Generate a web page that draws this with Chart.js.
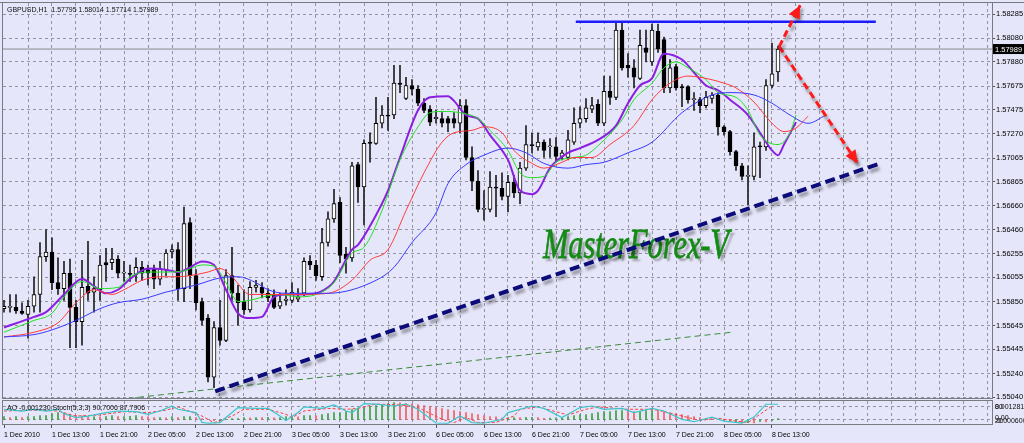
<!DOCTYPE html>
<html>
<head>
<title>GBPUSD,H1</title>
<script src="https://cdn.jsdelivr.net/npm/chart.js"></script>
<style>
  body { margin: 0; background: #e6e6fa; }
  #wrap { position: relative; width: 1024px; height: 443px; overflow: hidden; background: #e6e6fa; }
  canvas { position: absolute; left: 0; }
</style>
</head>
<body>
<div id="wrap">
  <canvas id="mainChart" width="1024" height="400" style="top:0"></canvas>
  <canvas id="panelChart" width="1024" height="43" style="top:400px"></canvas>
</div>
<script>
// ---- data (H1 bars from 1 Dec 05:00, bar index 0..129) ----
const symbolTitle = 'GBPUSD,H1  1.57795 1.58014 1.57714 1.57989';
const panelTitle = 'AO -0,001230 Stoch(5,3,3) 90,7006 87,7906';
const watermark = 'MasterForex-V';
const lastPrice = 1.57989;

const timeLabels = ['1 Dec 2010', '1 Dec 13:00', '1 Dec 21:00', '2 Dec 05:00', '2 Dec 13:00', '2 Dec 21:00',
  '3 Dec 05:00', '3 Dec 13:00', '3 Dec 21:00', '6 Dec 05:00', '6 Dec 13:00', '6 Dec 21:00',
  '7 Dec 05:00', '7 Dec 13:00', '7 Dec 21:00', '8 Dec 05:00', '8 Dec 13:00'];

const priceTicks = [1.58285, 1.58080, 1.57880, 1.57675, 1.57475, 1.57270, 1.57065, 1.56865, 1.56660,
  1.56460, 1.56255, 1.56055, 1.55850, 1.55645, 1.55445, 1.55240, 1.55040];

const candleOpen = [
  1.5579, 1.5580, 1.5580, 1.5577, 1.5574, 1.5581, 1.5591, 1.5623, 1.5627, 1.5601,
  1.5596, 1.5609, 1.5580, 1.5568, 1.5598, 1.5593, 1.5595, 1.5618, 1.5618, 1.5621,
  1.5609, 1.5609, 1.5608, 1.5614, 1.5612, 1.5613, 1.5604, 1.5612, 1.5627, 1.5629,
  1.5596, 1.5652, 1.5607, 1.5585, 1.5571, 1.5521, 1.5563, 1.5552, 1.5607, 1.5592,
  1.5585, 1.5578, 1.5597, 1.5597, 1.5592, 1.5591, 1.5581, 1.5586, 1.5586, 1.5587,
  1.5592, 1.5619, 1.5616, 1.5606, 1.5635, 1.5655, 1.5669, 1.5625, 1.5622, 1.5701,
  1.5682, 1.5720, 1.5719, 1.5736, 1.5743, 1.5743, 1.5770, 1.5757, 1.5768, 1.5765,
  1.5753, 1.5748, 1.5740, 1.5740, 1.5740, 1.5740, 1.5736, 1.5751, 1.5707, 1.5687,
  1.5663, 1.5663, 1.5682, 1.5681, 1.5674, 1.5686, 1.5677, 1.5698, 1.5718, 1.5716,
  1.5720, 1.5716, 1.5716, 1.5708, 1.5707, 1.5720, 1.5736, 1.5740, 1.5748, 1.5752,
  1.5736, 1.5763, 1.5758, 1.5815, 1.5785, 1.5783, 1.5774, 1.5800, 1.5788, 1.5814,
  1.5807, 1.5766, 1.5784, 1.5767, 1.5767, 1.5756, 1.5756, 1.5751, 1.5757, 1.5760,
  1.5733, 1.5729, 1.5712, 1.5700, 1.5691, 1.5691, 1.5717, 1.5716, 1.5768, 1.57795];
const candleHigh = [
  1.5586, 1.5591, 1.5591, 1.5584, 1.5586, 1.5606, 1.5635, 1.5646, 1.5639, 1.5622,
  1.5619, 1.5621, 1.5586, 1.5620, 1.5636, 1.5606, 1.5624, 1.5630, 1.5630, 1.5624,
  1.5619, 1.5616, 1.5622, 1.5619, 1.5616, 1.5616, 1.5619, 1.5629, 1.5633, 1.5635,
  1.5665, 1.5656, 1.5612, 1.5588, 1.5574, 1.5568, 1.5586, 1.5612, 1.5631, 1.5599,
  1.5595, 1.5602, 1.5603, 1.5601, 1.5596, 1.5595, 1.5592, 1.5595, 1.5601, 1.5596,
  1.5622, 1.5624, 1.5620, 1.5647, 1.5661, 1.5680, 1.5673, 1.5631, 1.5703, 1.5703,
  1.5722, 1.5728, 1.5758, 1.5751, 1.5758, 1.5785, 1.5785, 1.5775, 1.5773, 1.5768,
  1.5757, 1.5751, 1.5747, 1.5745, 1.5742, 1.5745, 1.5756, 1.5756, 1.5716, 1.5696,
  1.5679, 1.5695, 1.5692, 1.5694, 1.5692, 1.5692, 1.5703, 1.5734, 1.5728, 1.5728,
  1.5722, 1.5723, 1.5724, 1.5713, 1.5730, 1.5749, 1.5750, 1.5757, 1.5758, 1.5756,
  1.5776, 1.5776, 1.5821, 1.5821, 1.5795, 1.5790, 1.5815, 1.5815, 1.5820, 1.5820,
  1.5809, 1.5790, 1.5786, 1.5769, 1.5768, 1.5762, 1.5758, 1.5763, 1.5762, 1.5762,
  1.5734, 1.5730, 1.5713, 1.5702, 1.5700, 1.5728, 1.5720, 1.5773, 1.5804, 1.58014];
const candleLow = [
  1.5576, 1.5576, 1.5575, 1.5574, 1.5554, 1.5576, 1.5576, 1.5619, 1.5595, 1.5591,
  1.5586, 1.5546, 1.5546, 1.5548, 1.5586, 1.5576, 1.5586, 1.5602, 1.5612, 1.5605,
  1.5602, 1.5602, 1.5602, 1.5603, 1.5599, 1.5596, 1.5599, 1.5607, 1.5622, 1.5586,
  1.5585, 1.5596, 1.5578, 1.5565, 1.5517, 1.5512, 1.5548, 1.5551, 1.5586, 1.5565,
  1.5574, 1.5576, 1.5593, 1.5588, 1.5585, 1.5579, 1.5579, 1.5582, 1.5584, 1.5585,
  1.5590, 1.5612, 1.5603, 1.5603, 1.5632, 1.5652, 1.5618, 1.5609, 1.5619, 1.5669,
  1.5650, 1.5703, 1.5718, 1.5732, 1.5730, 1.5740, 1.5762, 1.5756, 1.5760, 1.5751,
  1.5745, 1.5734, 1.5736, 1.5733, 1.5729, 1.5732, 1.5728, 1.5705, 1.5679, 1.5661,
  1.5654, 1.5661, 1.5657, 1.5671, 1.5661, 1.5673, 1.5668, 1.5696, 1.5711, 1.5713,
  1.5707, 1.5707, 1.5703, 1.5705, 1.5705, 1.5718, 1.5732, 1.5737, 1.5745, 1.5734,
  1.5734, 1.5752, 1.5756, 1.5781, 1.5775, 1.5766, 1.5773, 1.5788, 1.5785, 1.5796,
  1.5762, 1.5762, 1.5764, 1.5750, 1.5753, 1.5747, 1.5745, 1.5749, 1.5753, 1.5726,
  1.5726, 1.5709, 1.5696, 1.5688, 1.5667, 1.5688, 1.5690, 1.5713, 1.5766, 1.57714];
const candleClose = [
  1.5581, 1.5581, 1.5577, 1.5575, 1.5581, 1.5591, 1.5623, 1.5627, 1.5601, 1.5596,
  1.5609, 1.5580, 1.5568, 1.5597, 1.5592, 1.5596, 1.5616, 1.5616, 1.5621, 1.5609,
  1.5610, 1.5608, 1.5614, 1.5609, 1.5609, 1.5604, 1.5613, 1.5626, 1.5629, 1.5596,
  1.5651, 1.5607, 1.5584, 1.5569, 1.5521, 1.5563, 1.5552, 1.5607, 1.5592, 1.5584,
  1.5578, 1.5597, 1.5599, 1.5592, 1.5588, 1.5580, 1.5585, 1.5587, 1.5593, 1.5589,
  1.5619, 1.5616, 1.5607, 1.5635, 1.5655, 1.5668, 1.5624, 1.5621, 1.5700, 1.5682,
  1.5719, 1.5719, 1.5736, 1.5743, 1.5742, 1.5770, 1.5769, 1.5768, 1.5765, 1.5753,
  1.5747, 1.5737, 1.5741, 1.5736, 1.5736, 1.5736, 1.5751, 1.5707, 1.5687, 1.5663,
  1.5664, 1.5682, 1.5681, 1.5674, 1.5686, 1.5677, 1.5698, 1.5718, 1.5717, 1.5720,
  1.5713, 1.5717, 1.5708, 1.5711, 1.5722, 1.5736, 1.5740, 1.5749, 1.5751, 1.5736,
  1.5763, 1.5758, 1.5815, 1.5783, 1.5783, 1.5775, 1.5802, 1.5796, 1.5815, 1.5799,
  1.5766, 1.5783, 1.5766, 1.5766, 1.5756, 1.5757, 1.5751, 1.5758, 1.5760, 1.5733,
  1.5729, 1.5712, 1.5700, 1.5691, 1.5692, 1.5716, 1.5716, 1.5768, 1.5778, 1.57989];

// moving averages, [bar, price]
const maPurple = [[0,1.5563],[5,1.5572],[7,1.5576],[10,1.5591],[13,1.5604],[15,1.5598],[17,1.5592],[19,1.5595],
  [21,1.5604],[24,1.5613],[27,1.5612],[29,1.5610],[31,1.5614],[33,1.5619],[35,1.5616],[37,1.5595],[39,1.5575],
  [41,1.5571],[43,1.5572],[45,1.5589],[47,1.5591],[49,1.5591],[52,1.5592],[54,1.5597],[55,1.5602],[58,1.5629],
  [59,1.5633],[61,1.5649],[64,1.5679],[66,1.5707],[69,1.5747],[71,1.5758],[74,1.5759],[75,1.5755],[77,1.5743],
  [79,1.5740],[81,1.5726],[84,1.5705],[86,1.5679],[88,1.5676],[89,1.5679],[91,1.5698],[94,1.5711],[96,1.5715],
  [99,1.5722],[102,1.5734],[104,1.5753],[106,1.5768],[108,1.5774],[110,1.5795],[113,1.5790],[115,1.5779],
  [117,1.5768],[119,1.5764],[121,1.5756],[124,1.5743],[126,1.5728],[128,1.5713],[129,1.5709],[130,1.5718],[132,1.5737]];
const maGreen = [[0,1.5559],[5,1.5569],[8,1.5575],[10,1.5589],[13,1.5602],[16,1.5596],[19,1.5597],[21,1.5606],
  [24,1.5610],[27,1.5610],[30,1.5611],[33,1.5616],[35,1.5615],[37,1.5601],[39,1.5585],[41,1.5586],[44,1.5590],
  [46,1.5591],[49,1.5589],[52,1.5591],[55,1.5601],[58,1.5626],[60,1.5631],[63,1.5662],[66,1.5705],[69,1.5733],
  [71,1.5745],[73,1.5746],[76,1.5745],[79,1.5740],[81,1.5730],[84,1.5713],[86,1.5694],[88,1.5690],[90,1.5691],
  [92,1.5703],[95,1.5707],[97,1.5709],[99,1.5717],[103,1.5739],[105,1.5756],[108,1.5770],[110,1.5783],[112,1.5788],
  [114,1.5783],[117,1.5773],[119,1.5762],[122,1.5758],[124,1.5747],[126,1.5726],[129,1.5718],[131,1.5728],[132,1.5743]];
const maRed = [[0,1.5555],[5,1.5559],[9,1.5567],[12,1.5584],[15,1.5595],[18,1.5591],[20,1.5595],[23,1.5603],
  [26,1.5606],[29,1.5606],[31,1.5607],[34,1.5610],[36,1.5613],[38,1.5606],[41,1.5591],[44,1.5591],[49,1.5591],
  [54,1.5592],[58,1.5603],[61,1.5620],[64,1.5629],[67,1.5662],[70,1.5694],[73,1.5720],[75,1.5728],[78,1.5730],
  [80,1.5733],[83,1.5728],[85,1.5713],[88,1.5702],[90,1.5698],[93,1.5703],[95,1.5707],[98,1.5707],[101,1.5718],
  [105,1.5734],[108,1.5756],[111,1.5770],[114,1.5776],[116,1.5775],[120,1.5770],[122,1.5766],[125,1.5754],
  [128,1.5736],[130,1.5729],[132,1.5732],[134,1.5742]];
const maBlue = [[0,1.5555],[5,1.5557],[8,1.5561],[12,1.5569],[16,1.5579],[19,1.5584],[23,1.5587],[27,1.5593],
  [32,1.5599],[36,1.5605],[39,1.5606],[42,1.5601],[44,1.5595],[47,1.5592],[54,1.5592],[62,1.5603],[65,1.5614],
  [68,1.5635],[72,1.5660],[74,1.5685],[77,1.5701],[80,1.5709],[84,1.5715],[87,1.5711],[90,1.5702],[94,1.5698],
  [97,1.5701],[100,1.5703],[104,1.5711],[108,1.5720],[113,1.5745],[118,1.5760],[121,1.5762],[125,1.5760],
  [128,1.5753],[131,1.5743],[134,1.5736],[137,1.5743]];

// hand drawn objects, [bar, price]
const resistanceLine = [[95.3, 1.5822], [145.3, 1.5822]];
const supportLine = [[35.2, 1.5509], [146, 1.5702]];
const channelLine = [[19, 1.5502], [121.3, 1.5559]];
const arrowUp = [[129.2, 1.5801], [132.7, 1.5836]];
const arrowDown = [[129.2, 1.5801], [142.3, 1.5702]];

// indicator window
const aoValues = [
  0.00021, 0.00014, 0.00021, 0.00014, 0.00021, 0.00022, 0.00028, 0.00029, 0.00042, 0.00049,
  0.00042, 0.00035, 0.00028, 0.00027, 0.00021, 0.00022, 0.00020, 0.00021, 0.00028, 0.00021,
  0.00022, 0.00023, 0.00028, 0.00021, 0.00020, 0.00014, 0.00015, 0.00013, 0.00021, 0.00014,
  0.00021, 0.00022, 0.00014, 0.00007, 0.00001, -0.00007, -0.00006, 0.00001, 0.00007, 0.00008,
  0.00014, 0.00013, 0.00015, 0.00014, 0.00016, 0.00013, 0.00015, 0.00021, 0.00022, 0.00020,
  0.00028, 0.00029, 0.00027, 0.00035, 0.00042, 0.00049, 0.00050, 0.00056, 0.00070, 0.00077,
  0.00084, 0.00091, 0.00098, 0.00105, 0.00112, 0.00119, 0.00118, 0.00112, 0.00110, 0.00105,
  0.00098, 0.00091, 0.00084, 0.00077, 0.00070, 0.00063, 0.00056, 0.00049, 0.00042, 0.00035,
  0.00028, 0.00021, 0.00020, 0.00012, 0.00013, 0.00015, 0.00014, 0.00016, 0.00017, 0.00015,
  0.00010, 0.00012, 0.00013, 0.00014, 0.00021, 0.00028, 0.00035, 0.00036, 0.00042, 0.00049,
  0.00056, 0.00057, 0.00063, 0.00064, 0.00062, 0.00056, 0.00057, 0.00063, 0.00064, 0.00062,
  0.00056, 0.00049, 0.00042, 0.00035, 0.00028, 0.00021, 0.00014, 0.00007, 0.00006, 0.00001,
  -0.00007, -0.00014, -0.00013, -0.00021, -0.00020, -0.00022, -0.00014, -0.00015, -0.00007, 0.00007];
const stochMain = [[0,66],[3,58],[5,66],[7,58],[9,66],[10,46],[12,28],[14,35],[17,51],[19,58],[22,55],[24,43],
  [26,58],[28,81],[29,66],[32,51],[33,6],[34,2],[36,5],[38,51],[39,74],[42,70],[44,70],[46,35],[47,15],[49,51],
  [50,77],[53,70],[55,86],[57,58],[58,51],[60,92],[62,90],[65,81],[67,90],[69,66],[72,3],[74,2],[76,35],[78,5],
  [80,2],[83,20],[84,51],[88,81],[90,70],[93,28],[96,74],[98,81],[100,66],[103,70],[105,51],[108,70],[110,58],
  [113,20],[115,9],[118,30],[120,12],[123,3],[125,30],[127,89],[129,89]];
const stochSignal = [[0,58],[5,62],[9,58],[12,35],[16,40],[20,55],[24,51],[27,62],[29,77],[33,35],[35,4],[38,35],
  [40,66],[44,66],[47,43],[48,28],[50,58],[54,70],[57,66],[59,70],[62,90],[66,86],[69,74],[73,20],[75,5],[77,28],
  [79,5],[82,6],[85,35],[86,66],[89,77],[94,40],[97,66],[99,77],[104,66],[107,66],[109,62],[113,35],[116,15],
  [119,25],[122,12],[124,5],[126,43],[128,81]];
const stochLevels = [20, 80];

// ---- layout ----
const X_MIN = -1 / 6, X_MAX = X_MIN + 989 / 6;   // 6 px per bar
const Y_MIN = 1.55033, Y_MAX = 1.58379;
const GRID = '#9494a0', FRAME = '#7a7a80';
const FONT = 'Liberation Sans';

const bars = candleOpen.map((_, i) => i);
const pts = arr => arr.map(([x, y]) => ({ x, y }));
const gridBars = [];
for (let b = 0; b <= 164; b += 4) gridBars.push(b);

function fixWidth(w) {
  return axis => { axis.width = w; axis.paddingTop = 0; axis.paddingBottom = 0; };
}
function fixHeight(h) {
  return axis => { axis.height = h; axis.paddingLeft = 0; axis.paddingRight = 0; };
}
function maLine(data, color, width) {
  return { type: 'line', data: pts(data), borderColor: color, borderWidth: width, pointRadius: 0,
           cubicInterpolationMode: 'monotone', order: 3 };
}
function drawnLine(data, color, width, dash, extra) {
  return Object.assign({ type: 'line', data: pts(data), borderColor: color, borderWidth: width,
           borderDash: dash, pointRadius: 0, tension: 0, order: 1 }, extra || {});
}

const mainDecor = {
  id: 'mainDecor',
  beforeDatasetsDraw(chart) {
    const ctx = chart.ctx;
    ctx.save();
    ctx.font = 'italic 42px "Liberation Serif"';
    const w = ctx.measureText(watermark).width;
    ctx.translate(543, 258);
    ctx.scale(186 / w, 1);
    ctx.shadowColor = 'rgba(40,40,40,0.4)';
    ctx.shadowOffsetX = 3; ctx.shadowOffsetY = 3; ctx.shadowBlur = 2;
    ctx.fillStyle = '#168a16';
    ctx.strokeStyle = '#168a16';
    ctx.lineWidth = 0.8;
    ctx.textBaseline = 'alphabetic';
    ctx.fillText(watermark, 0, 0);
    ctx.shadowColor = 'rgba(0,0,0,0)';
    ctx.strokeText(watermark, 0, 0);
    ctx.restore();
  },
  beforeDatasetDraw(chart, args) {
    const ds = chart.data.datasets[args.index];
    if (ds.shadow) {
      const ctx = chart.ctx;
      ctx.save();
      ctx.shadowColor = 'rgba(0,0,0,0.35)';
      ctx.shadowOffsetX = 2; ctx.shadowOffsetY = 4; ctx.shadowBlur = 3;
    }
  },
  afterDatasetDraw(chart, args) {
    if (chart.data.datasets[args.index].shadow) chart.ctx.restore();
  },
  afterDatasetsDraw(chart) {
    const ctx = chart.ctx;
    chart.data.datasets.forEach((ds, i) => {
      if (!ds.arrow) return;
      const [a, b] = chart.getDatasetMeta(i).data;
      const ang = Math.atan2(b.y - a.y, b.x - a.x);
      const L = 13, W = 6;
      const bx = b.x - L * Math.cos(ang), by = b.y - L * Math.sin(ang);
      ctx.save();
      ctx.shadowColor = 'rgba(0,0,0,0.3)';
      ctx.shadowOffsetX = 2; ctx.shadowOffsetY = 3; ctx.shadowBlur = 3;
      ctx.fillStyle = ds.borderColor;
      ctx.beginPath();
      ctx.moveTo(b.x, b.y);
      ctx.lineTo(bx - W * Math.sin(ang), by + W * Math.cos(ang));
      ctx.lineTo(bx + W * Math.sin(ang), by - W * Math.cos(ang));
      ctx.closePath();
      ctx.fill();
      ctx.restore();
    });
  },
  afterDraw(chart) {
    const ctx = chart.ctx;
    const { left, top, right, bottom } = chart.chartArea;
    ctx.save();
    ctx.strokeStyle = FRAME;
    ctx.lineWidth = 1;
    ctx.beginPath();
    ctx.moveTo(0, top - 0.5); ctx.lineTo(1024, top - 0.5);
    ctx.stroke();
    ctx.strokeRect(left - 0.5, top - 0.5, right - left + 1, bottom - top + 1);
    ctx.fillStyle = '#111';
    ctx.font = '7px "' + FONT + '"';
    ctx.textBaseline = 'middle';
    ctx.fillText(symbolTitle, 7, 10);
    const py = chart.scales.y.getPixelForValue(lastPrice);
    ctx.fillStyle = '#000';
    ctx.fillRect(right + 1, py - 5, 1024 - right, 10);
    ctx.fillStyle = '#fff';
    ctx.font = '7.5px "' + FONT + '"';
    ctx.fillText(lastPrice.toFixed(5), right + 3, py + 0.5);
    ctx.restore();
  }
};

new Chart(document.getElementById('mainChart'), {
  type: 'bar',
  data: {
    datasets: [
      drawnLine(arrowUp, '#ff1a1a', 3, [7, 4], { shadow: true, arrow: true, order: 0 }),
      drawnLine(arrowDown, '#ff1a1a', 3, [7, 4], { shadow: true, arrow: true, order: 0 }),
      drawnLine(supportLine, '#0b0b7a', 4, [10, 5], { shadow: true }),
      drawnLine(resistanceLine, '#1c1cff', 2.5, []),
      drawnLine(channelLine, '#3a8a3a', 1, [6, 4], { order: 2 }),
      maLine(maBlue, '#3a3aff', 1),
      maLine(maRed, '#ff3c3c', 1),
      maLine(maGreen, '#22e022', 1),
      maLine(maPurple, '#8a1fe0', 2),
      {
        type: 'bar', data: bars.map(i => ({ x: i, y: [candleOpen[i], candleClose[i]] })),
        backgroundColor: bars.map(i => candleClose[i] > candleOpen[i] ? '#ffffff' : '#000000'),
        borderColor: '#000', borderWidth: 1, borderSkipped: false, barThickness: 4, grouped: false, order: 5
      },
      {
        type: 'bar', data: bars.map(i => ({ x: i, y: [candleLow[i], candleHigh[i]] })),
        backgroundColor: '#202020', barThickness: 1, grouped: false, order: 6
      },
      drawnLine([[X_MIN, lastPrice], [X_MAX, lastPrice]], '#8a8a90', 1, [], { order: 7 })
    ]
  },
  options: {
    responsive: false,
    animation: false,
    events: [],
    layout: { padding: { left: 3, top: 3, right: 0, bottom: 2 } },
    plugins: { legend: { display: false }, tooltip: { enabled: false } },
    scales: {
      x: {
        type: 'linear', min: X_MIN, max: X_MAX, offset: false,
        afterBuildTicks: axis => { axis.ticks = gridBars.filter(b => b > 0).map(v => ({ value: v })); },
        ticks: { display: false },
        grid: { color: GRID, drawTicks: false, offset: false, borderDash: [3, 3] },
        border: { display: false, dash: [3, 3] },
        afterFit: fixHeight(0)
      },
      y: {
        position: 'right', min: Y_MIN, max: Y_MAX,
        afterBuildTicks: axis => { axis.ticks = priceTicks.map(v => ({ value: v })); },
        ticks: { color: '#000', font: { family: FONT, size: 7.5 }, padding: 1, callback: v => v.toFixed(5) },
        grid: { color: GRID, tickLength: 3, tickColor: '#555', tickBorderDash: [], borderDash: [3, 3] },
        border: { display: false, dash: [3, 3] },
        afterFit: fixWidth(32)
      }
    }
  },
  plugins: [mainDecor]
});

const panelDecor = {
  id: 'panelDecor',
  afterDraw(chart) {
    const ctx = chart.ctx;
    const { left, top, right, bottom } = chart.chartArea;
    ctx.save();
    ctx.strokeStyle = FRAME;
    ctx.lineWidth = 1;
    ctx.strokeRect(left - 0.5, top - 0.5, right - left + 1, bottom - top + 1);
    ctx.fillStyle = '#111';
    ctx.font = '7px "' + FONT + '"';
    ctx.textBaseline = 'middle';
    ctx.fillText(panelTitle, 7, 8);
    const x = right + 3;
    ctx.fillText('0.0012817', x, 7);
    ctx.fillText('80', x, 7);
    ctx.fillText('0.00', x, 18);
    ctx.fillText('-0.000600', x, 21);
    ctx.fillText('20', x, 21);
    ctx.restore();
  }
};

new Chart(document.getElementById('panelChart'), {
  type: 'bar',
  data: {
    datasets: [
      { type: 'line', yAxisID: 'st', data: pts(stochMain), borderColor: '#3cc4cc', borderWidth: 1.2,
        pointRadius: 0, tension: 0, order: 1 },
      { type: 'line', yAxisID: 'st', data: pts(stochSignal), borderColor: '#ff3c3c', borderWidth: 1,
        borderDash: [3, 2], pointRadius: 0, tension: 0, order: 2 },
      { type: 'bar', yAxisID: 'ao', data: bars.map(i => ({ x: i, y: aoValues[i] })),
        backgroundColor: bars.map(i => (i === 0 || aoValues[i] > aoValues[i - 1]) ? '#3ca03c' : '#f06060'),
        barThickness: 1, grouped: false, order: 3 }
    ]
  },
  options: {
    responsive: false,
    animation: false,
    events: [],
    layout: { padding: { left: 3, top: 1, right: 0, bottom: 0 } },
    plugins: { legend: { display: false }, tooltip: { enabled: false } },
    scales: {
      x: {
        type: 'linear', min: X_MIN, max: X_MAX, offset: false, position: 'bottom',
        afterBuildTicks: axis => { axis.ticks = gridBars.map(v => ({ value: v })); },
        ticks: {
          autoSkip: false, maxRotation: 0, align: 'start', padding: 3, color: '#000',
          font: { family: FONT, size: 7 },
          callback: v => (v % 8 === 0 && v / 8 < timeLabels.length) ? timeLabels[v / 8] : ''
        },
        grid: {
          offset: false, tickLength: 4, tickBorderDash: [], borderDash: [3, 3],
          color: c => (c.tick && c.tick.value === 0) ? 'rgba(0,0,0,0)' : GRID,
          tickColor: c => (c.tick && c.tick.value % 8 === 0 && c.tick.value / 8 < timeLabels.length) ? '#555' : 'rgba(0,0,0,0)'
        },
        border: { display: false, dash: [3, 3] },
        afterFit: fixHeight(19)
      },
      ao: { type: 'linear', display: false, min: -0.0003, max: 0.0013 },
      st: {
        type: 'linear', position: 'right', min: -1.5, max: 104,
        afterBuildTicks: axis => { axis.ticks = stochLevels.map(v => ({ value: v })); },
        ticks: { display: false },
        grid: { color: GRID, drawTicks: false, borderDash: [3, 3] },
        border: { display: false, dash: [3, 3] },
        afterFit: fixWidth(32)
      }
    }
  },
  plugins: [panelDecor]
});
</script>
</body>
</html>
